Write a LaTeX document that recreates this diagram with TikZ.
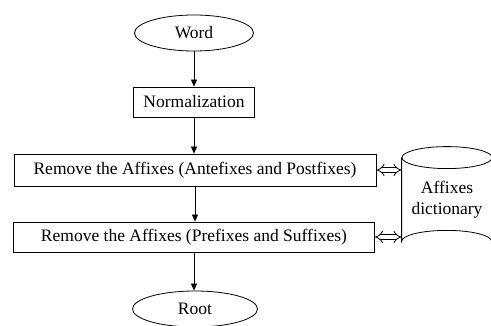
\documentclass[tikz,border=0pt]{standalone}
\usepackage{fontspec}
\setmainfont{Liberation Serif}
\usetikzlibrary{arrows.meta,shapes.geometric}
\begin{document}
\begin{tikzpicture}[x=1pt,y=-1pt,
  every node/.style={font=\fontsize{17.5}{21}\selectfont, inner sep=0pt, line width=0.8pt},
  terminal/.style={draw, ellipse},
  procbox/.style={draw, rectangle},
  flow/.style={line width=0.8pt, -{Triangle[length=7pt,width=6pt]}},
  exchange/.style={line width=0.8pt, double=white, double distance=3.5pt, {Implies}-{Implies}},
  line width=0.8pt]
\useasboundingbox (0,0) rectangle (491,326);

\node[terminal, minimum width=119, minimum height=36] (word) at (194,33) {Word};
\node[procbox, minimum width=121, minimum height=30] (norm) at (194,102) {Normalization};
\node[procbox, minimum width=362, minimum height=32] (rm1) at (195,170) {Remove the Affixes (Antefixes and Postfixes)};
\node[procbox, minimum width=361, minimum height=30] (rm2) at (194,237) {Remove the Affixes (Prefixes and Suffixes)};
\node[terminal, minimum width=125, minimum height=36] (root) at (195,309) {Root};

% dictionary store drawn as a cylinder around its label node
\node[minimum width=90, minimum height=105, align=center] (dict) at (447,199.5) {Affixes\\dictionary};
\draw ([yshift=-11]dict.north west) -- ([yshift=11]dict.south west)
      arc[start angle=180, end angle=360, x radius=45, y radius=11]
      -- ([yshift=-11]dict.north east);
\draw ([yshift=-11]dict.north) ellipse [x radius=45, y radius=11];

\draw[flow] (word.south) -- (word.south |- norm.north);
\draw[flow] (norm.south) -- (norm.south |- rm1.north);
\draw[flow] (rm1.south) -- (rm1.south |- rm2.north);
\draw[flow] (rm2.south) -- (rm2.south |- root.north);

\draw[exchange] (rm1.east) -- (rm1.east -| dict.west);
\draw[exchange] (rm2.east) -- (rm2.east -| dict.west);
\end{tikzpicture}
\end{document}
